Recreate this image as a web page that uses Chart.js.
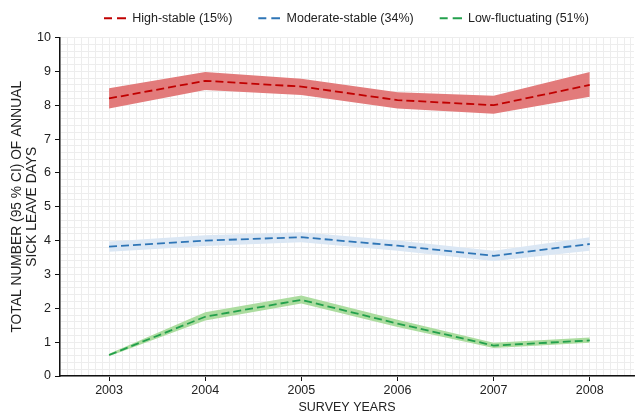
<!DOCTYPE html>
<html><head><meta charset="utf-8">
<script src="https://cdn.jsdelivr.net/npm/chart.js@4/dist/chart.umd.min.js"></script>
<style>html,body{margin:0;padding:0;background:#fff}#wrap{width:636px;height:412px}</style>
</head><body><div id="wrap"><canvas id="c" width="636" height="412"></canvas></div>
<script>
const years = [2003, 2004, 2005, 2006, 2007, 2008];
const highMean = [8.2, 8.72, 8.55, 8.15, 8.0, 8.6];
const highLow  = [7.9, 8.45, 8.3, 7.9, 7.75, 8.25];
const highUp   = [8.5, 8.98, 8.78, 8.38, 8.28, 8.98];
const modMean = [3.82, 4.0, 4.1, 3.85, 3.55, 3.9];
const modLow  = [3.67, 3.84, 3.95, 3.7, 3.4, 3.7];
const modUp   = [3.97, 4.16, 4.25, 4.0, 3.7, 4.1];
const lowMean = [0.62, 1.75, 2.25, 1.55, 0.9, 1.05];
const lowLow  = [0.58, 1.64, 2.14, 1.45, 0.83, 0.98];
const lowUp   = [0.66, 1.88, 2.38, 1.66, 0.98, 1.14];
const labels = ['High-stable (15%)', 'Moderate-stable (34%)', 'Low-fluctuating (51%)'];
const yTickLabels = [0,1,2,3,4,5,6,7,8,9,10];

const pts = arr => arr.map((v, i) => ({x: years[i], y: v}));
const colors = {
  line: ['#c00000', '#2e75b6', '#23a04c'],
  band: ['#e27b7b', '#dbe7f4', '#acdc9f']
};
// legend icon: blank lead-in + two dashes
function dashIcon(color) {
  const c = document.createElement('canvas');
  c.width = 38; c.height = 4;
  const g = c.getContext('2d');
  g.strokeStyle = color; g.lineWidth = 2;
  g.beginPath(); g.moveTo(16, 2); g.lineTo(24, 2); g.moveTo(29, 2); g.lineTo(38, 2); g.stroke();
  return c;
}
const series = [[highMean, highLow, highUp], [modMean, modLow, modUp], [lowMean, lowLow, lowUp]];
const datasets = [];
series.forEach((s, k) => {
  datasets.push({label: '_up' + k, data: pts(s[2]), borderWidth: 0, pointRadius: 0, backgroundColor: colors.band[k], fill: '+1', order: 10});
  datasets.push({label: '_lo' + k, data: pts(s[1]), borderWidth: 0, pointRadius: 0, fill: false, order: 10});
});
series.forEach((s, k) => {
  datasets.push({label: labels[k], data: pts(s[0]), borderColor: colors.line[k], backgroundColor: colors.line[k], borderWidth: 1.8, borderDash: [8, 4], pointRadius: 0, fill: false, order: 1, pointStyle: dashIcon(colors.line[k])});
});

const isInt = v => Math.abs(v - Math.round(v)) < 1e-6;
const FONT = "'Liberation Sans', Arial, sans-serif";
Chart.defaults.font.family = FONT;
Chart.defaults.color = '#333';

const legendShift = {
  id: 'legendShift',
  afterLayout(chart) {
    const lg = chart.legend;
    if (lg) {
      const w = lg.right - lg.left; lg.left = 78; lg.right = 78 + w;
      lg.top -= 3; lg.bottom -= 3;
    }
  }
};

new Chart(document.getElementById('c'), {
  type: 'line',
  data: {datasets},
  plugins: [legendShift],
  options: {
    responsive: false, animation: false, devicePixelRatio: 1,
    layout: {padding: {left: 0, right: 2, top: 5, bottom: -3}},
    plugins: {
      tooltip: {enabled: false},
      legend: {
        position: 'top', align: 'start',
        labels: {
          filter: item => !item.text.startsWith('_'),
          usePointStyle: true, pointStyleWidth: 38,
          font: {size: 12.5, family: FONT}, color: '#222', padding: 10, boxHeight: 12
        }
      }
    },
    scales: {
      x: {
        type: 'linear', min: 2002.49, max: 2008.46,
        afterBuildTicks: sc => { const t = []; for (let i = 0; i <= 83; i++) { const v = 2002.5 + i / 14; if (v <= 2008.46) t.push({value: v}); } for (const y of years) { if (!t.some(q => Math.abs(q.value - y) < 1e-6)) t.push({value: y}); } t.sort((a,b)=>a.value-b.value); sc.ticks = t; },
        ticks: {autoSkip: false, maxRotation: 0, padding: 2, font: {size: 12.5}, color: '#222', callback: v => isInt(v) && years.includes(Math.round(v)) ? String(Math.round(v)) : ''},
        grid: {color: '#ededed', lineWidth: 1, tickLength: 5, tickColor: ctx => (ctx.tick && isInt(ctx.tick.value)) ? '#111' : 'rgba(0,0,0,0)'},
        border: {color: '#111', width: 1.5},
        title: {display: true, text: 'SURVEY YEARS', font: {size: 12.5}, color: '#222', padding: {top: 0, bottom: 0}}
      },
      y: {
        min: 0, max: 10,
        afterBuildTicks: sc => { const t = []; for (let i = 0; i <= 50; i++) t.push({value: i / 5}); sc.ticks = t; },
        afterFit: sc => { sc.width = 60; },
        ticks: {autoSkip: false, padding: 4, font: {size: 12.5}, color: '#222', callback: v => isInt(v) && yTickLabels.includes(Math.round(v)) ? String(Math.round(v)) : ''},
        grid: {color: '#ededed', lineWidth: 1, tickLength: 5, tickColor: ctx => (ctx.tick && isInt(ctx.tick.value)) ? '#111' : 'rgba(0,0,0,0)'},
        border: {color: '#111', width: 1.5},
        title: {display: true, text: ['TOTAL NUMBER (95 % CI) OF ANNUAL', 'SICK LEAVE DAYS'], font: {size: 13.8, lineHeight: 1.1}, color: '#222', padding: {top: 9.5, bottom: 0}}
      }
    }
  }
});
</script></body></html>
